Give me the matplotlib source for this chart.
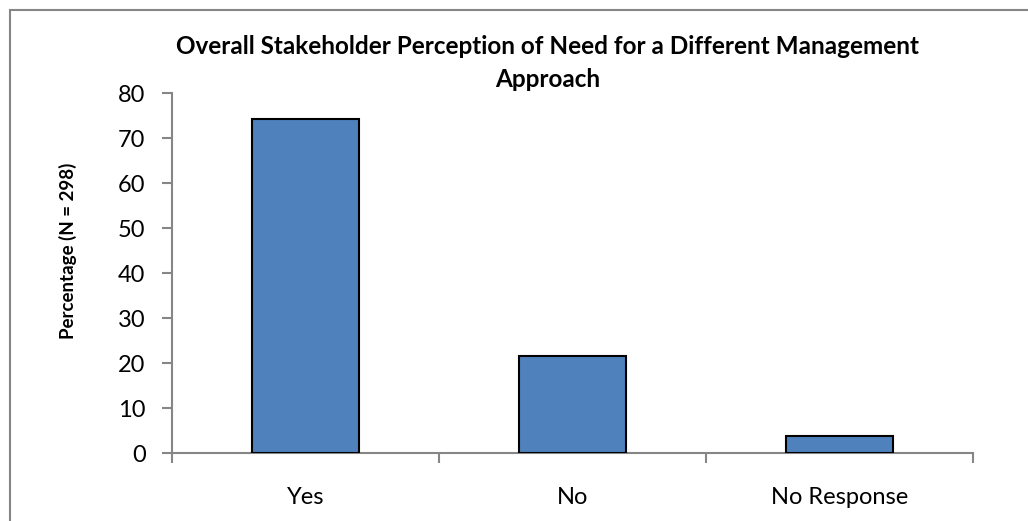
import matplotlib.pyplot as plt
from matplotlib.patches import Rectangle

categories = ['Yes', 'No', 'No Response']
percentages = [74.2, 21.7, 3.9]

plt.rcParams['font.family'] = ['Lato', 'DejaVu Sans']

fig = plt.figure(figsize=(10.28, 5.21), dpi=100)
W, H = 1028, 521
ax = fig.add_axes([172 / W, 1 - 453.3 / H, (972.7 - 172) / W, (453.3 - 93.3) / H])

# outer chart border
fig.patches.append(Rectangle((10 / W, -0.1), 1.2, 1 - 10 / H + 0.1, transform=fig.transFigure,
                             fill=False, edgecolor='#868686', linewidth=1.5))

x = range(len(categories))
ax.bar(x, percentages, width=0.4, color='#4f81bd', edgecolor='black', linewidth=1.5, zorder=3)

ax.set_xlim(-0.5, 2.5)
ax.set_ylim(0, 80)
ax.set_yticks(range(0, 81, 10))
ax.set_xticks(x)
ax.set_xticklabels(categories, fontsize=17)
ax.set_xticks([-0.5, 0.5, 1.5, 2.5], minor=True)
ax.tick_params(axis='x', which='major', length=0, pad=24)
ax.tick_params(axis='x', which='minor', length=7, width=1.5, color='#868686', direction='out')
ax.tick_params(axis='y', length=7, width=1.5, color='#868686', labelsize=17, pad=12)

for side in ['top', 'right']:
    ax.spines[side].set_visible(False)
for side in ['left', 'bottom']:
    ax.spines[side].set_color('#868686')
    ax.spines[side].set_linewidth(1.5)

ax.set_ylabel('Percentage (N = 298)', fontsize=13.5, fontweight='bold')
ax.yaxis.set_label_coords(-0.119, 0.562)
fig.text(548 / W, 1 - 63 / H, 'Overall Stakeholder Perception of Need for a Different Management\nApproach',
         ha='center', va='center', fontsize=17.5, fontweight='bold', linespacing=1.5)

fig.savefig('out.png', dpi=100)
